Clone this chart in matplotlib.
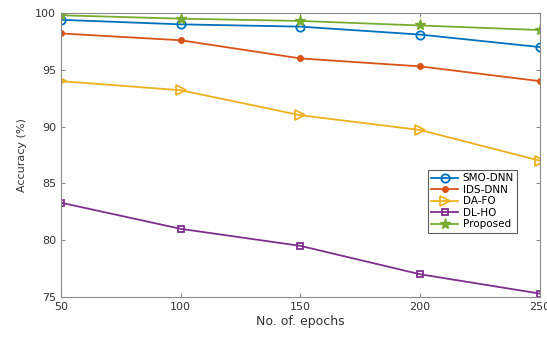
import matplotlib.pyplot as plt

# -------- Data --------
epochs = [50, 100, 150, 200, 250]
smo_dnn = [99.4, 99.0, 98.8, 98.1, 97.0]
ids_dnn = [98.2, 97.6, 96.0, 95.3, 94.0]
da_fo = [94.0, 93.2, 91.0, 89.7, 87.0]
dl_ho = [83.3, 81.0, 79.5, 77.0, 75.3]
proposed = [99.8, 99.5, 99.3, 98.9, 98.5]

x_ticks = [50, 100, 150, 200, 250]
y_ticks = [75, 80, 85, 90, 95, 100]

plt.rcParams.update({
    "font.family": "DejaVu Sans",
    "font.size": 8,
    "axes.edgecolor": "#8a8a8a",
    "axes.linewidth": 0.8,
    "xtick.color": "#8a8a8a",
    "ytick.color": "#8a8a8a",
    "xtick.labelcolor": "#333333",
    "ytick.labelcolor": "#333333",
})

fig = plt.figure(figsize=(5.47, 3.42), dpi=100)
ax = fig.add_axes([0.1115, 0.1316, 0.8755, 0.8304])

ax.plot(epochs, smo_dnn, color="#0072BD", marker="o", markersize=6,
        markerfacecolor="none", markeredgewidth=1.3, linewidth=1.3, label="SMO-DNN")
ax.plot(epochs, ids_dnn, color="#D95319", marker="o", markersize=4,
        linewidth=1.3, label="IDS-DNN")
ax.plot(epochs, da_fo, color="#EDB120", marker=">", markersize=7,
        markerfacecolor="none", markeredgewidth=1.3, linewidth=1.3, label="DA-FO")
ax.plot(epochs, dl_ho, color="#7E2F8E", marker="s", markersize=5,
        markerfacecolor="none", markeredgewidth=1.3, linewidth=1.3, label="DL-HO")
ax.plot(epochs, proposed, color="#77AC30", marker="*", markersize=8,
        linewidth=1.3, label="Proposed")

ax.set_xlim(50, 250)
ax.set_ylim(75, 100)
ax.set_xticks(x_ticks)
ax.set_yticks(y_ticks)
ax.tick_params(direction="in", top=True, right=True, length=3, width=0.8,
               labelsize=8)
ax.set_xlabel("No. of. epochs", fontsize=9, color="#333333", labelpad=2)
ax.set_ylabel("Accuracy (%)", fontsize=8, color="#333333", labelpad=6)

leg = ax.legend(loc="upper right", bbox_to_anchor=(0.952, 0.447),
                fontsize=7.5, frameon=True, fancybox=False, borderpad=0.3,
                labelspacing=0.15, handlelength=2.6, handletextpad=0.4,
                borderaxespad=0)
leg.get_frame().set_edgecolor("#333333")
leg.get_frame().set_linewidth(0.8)

plt.savefig("out.png", dpi=100)
